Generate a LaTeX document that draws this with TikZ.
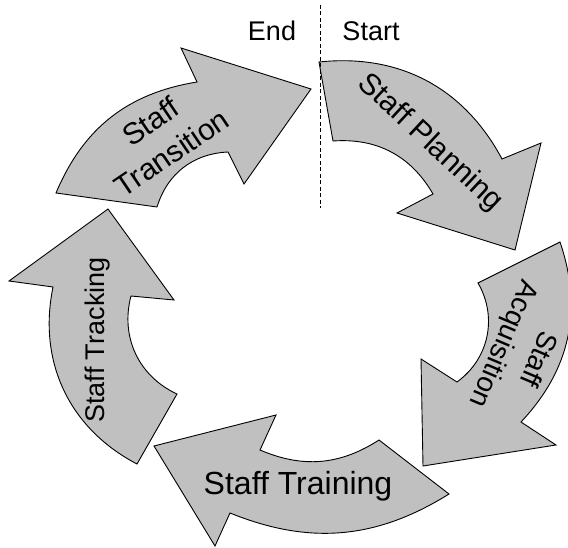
\documentclass[tikz,border=0pt]{standalone}
\usepackage{fontspec}
\setmainfont{Liberation Sans}
\definecolor{arrowgray}{RGB}{192,192,192}

\begin{document}
\begin{tikzpicture}[x=1pt,y=1pt,
    cyclearrow/.style={draw=black,fill=arrowgray,line width=0.9pt,line join=miter},
    phase/.style={inner sep=0pt,align=center},
    endlabel/.style={inner sep=0pt,font=\fontsize{27}{32}\selectfont},
    divider/.style={draw=black,line width=0.8pt,dash pattern=on 4pt off 2.5pt}]
          \useasboundingbox (0,0) rectangle (568,547);
          \clip (0,0) rectangle (568,547);
          % arrows
          \draw[cyclearrow] (319,485) to[bend left=34] (502,388) -- (541,404) -- (515,297)
            -- (397,334) -- (433,353) to[bend right=32] (333,406) -- cycle;
          \draw[cyclearrow] (560,305) to[bend left=31] (521,125) -- (556,102) -- (423,81)
            -- (421,188) -- (457,165) to[bend right=42] (478,264) -- cycle;
          \draw[cyclearrow] (449,53) to[bend left=27] (230,34) -- (215,1) -- (154,101)
            -- (276,132) -- (260,97) to[bend right=28] (379,107) -- cycle;
          \draw[cyclearrow] (137,83) to[bend left=37] (53,260) -- (9,266) -- (108,338)
            -- (174,247) -- (131,251) to[bend right=40] (177,153) -- cycle;
          \draw[cyclearrow] (56,354) to[bend left=29] (197,465) -- (181,499) -- (311,458)
            -- (244,363) -- (228,395) to[bend right=35] (157,340) -- cycle;
          % start / end
          \coordinate (divtop) at (320,542);
          \coordinate (divbot) at (320,339);
          \draw[divider] (divtop) -- (divbot);
          \node[endlabel] (endtxt) at (272,516) {End};
          \node[endlabel] (starttxt) at (371,516) {Start};
          % labels
          \node[phase,rotate=-43,font=\fontsize{30}{38}\selectfont] (planning) at (430,404) {Staff Planning};
          \node[phase,rotate=-113,font=\fontsize{28}{38}\selectfont] (acquisition) at (520,196) {Staff\\Acquisition};
          \node[phase,font=\fontsize{32}{38}\selectfont] (training) at (298,61) {Staff Training};
          \node[phase,rotate=90,font=\fontsize{27}{38}\selectfont] (tracking) at (98,207) {Staff Tracking};
          \node[phase,rotate=34,font=\fontsize{30}{38}\selectfont] (transition) at (161,410) {Staff\\Transition};
        \end{tikzpicture}
\end{document}
